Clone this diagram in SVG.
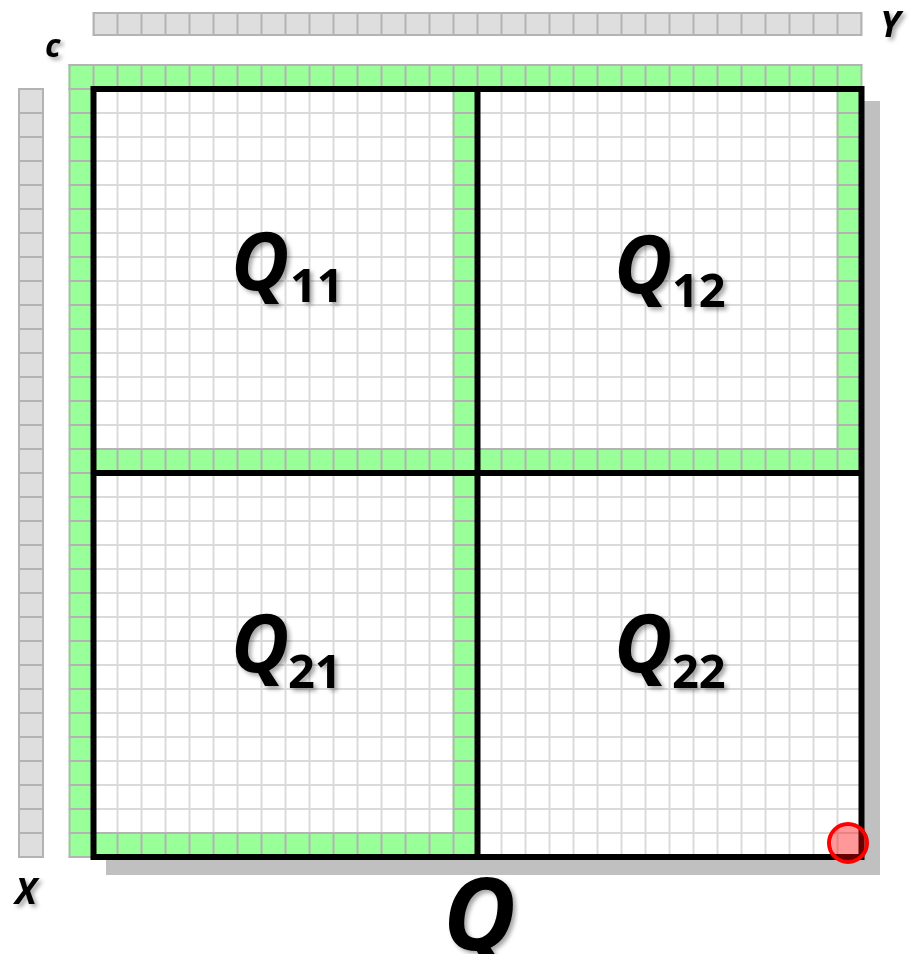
<svg xmlns="http://www.w3.org/2000/svg" width="915" height="954" viewBox="0 0 915 954">
  <defs>
    <style>
      .lbl { font-family: "Open Sans", "Noto Sans", "DejaVu Sans", sans-serif; font-weight: bold; fill: #000; filter: url(#sh); }
      .it { font-style: italic; }
      .bar { fill: #dedede; }
      .barline { fill: none; stroke: #b3b3b3; stroke-width: 2; }
      .black { fill: none; stroke: #000; stroke-width: 6; }
    </style>
    <filter id="sh" x="-20%" y="-20%" width="150%" height="150%">
      <feDropShadow dx="3" dy="3" stdDeviation="2" flood-color="#000" flood-opacity="0.35"/>
    </filter>
    <pattern id="grid" patternUnits="userSpaceOnUse" x="68.5" y="64" width="24" height="24">
      <rect x="0" y="0" width="24" height="24" fill="#fff"/>
      <rect x="0" y="0" width="24" height="2" fill="#dadada"/>
      <rect x="0" y="0" width="2" height="24" fill="#dadada"/>
    </pattern>
    <pattern id="green" patternUnits="userSpaceOnUse" x="68.5" y="64" width="24" height="24">
      <rect x="0" y="0" width="24" height="24" fill="#99ff99"/>
      <rect x="0" y="0" width="24" height="2" fill="#b3b3b3"/>
      <rect x="0" y="0" width="2" height="24" fill="#b3b3b3"/>
    </pattern>
    <pattern id="vbars" patternUnits="userSpaceOnUse" x="92.5" y="0" width="24" height="24">
      <rect x="0" y="0" width="2" height="24" fill="#b3b3b3"/>
    </pattern>
    <pattern id="hbars" patternUnits="userSpaceOnUse" x="0" y="88" width="24" height="24">
      <rect x="0" y="0" width="24" height="2" fill="#b3b3b3"/>
    </pattern>
  </defs>

  <rect width="915" height="954" fill="#fff"/>

  <!-- Y vector bar -->
  <g id="Ybar">
    <rect class="bar" x="93.5" y="13" width="768" height="22"/>
    <rect x="93.5" y="13" width="768" height="22" fill="url(#vbars)"/>
    <rect class="barline" x="93.5" y="13" width="768" height="22"/>
  </g>

  <!-- X vector bar -->
  <g id="Xbar">
    <rect class="bar" x="19" y="89" width="24" height="768"/>
    <rect x="19" y="89" width="24" height="768" fill="url(#hbars)"/>
    <rect class="barline" x="19" y="89" width="24" height="768"/>
  </g>

  <!-- Q matrix -->
  <g id="Q">
    <rect x="106" y="101" width="774" height="774" fill="#c0c0c0"/>
    <rect x="68.5" y="64" width="794" height="794" fill="url(#grid)"/>
    <g id="green-cells" fill="url(#green)">
      <rect x="68.5" y="64" width="794" height="26"/>
      <rect x="68.5" y="64" width="26" height="794"/>
      <rect x="452.5" y="88" width="26" height="770"/>
      <rect x="92.5" y="448" width="770" height="26"/>
      <rect x="836.5" y="88" width="26" height="386"/>
      <rect x="92.5" y="832" width="386" height="26"/>
    </g>
    <g id="quadrant-lines">
      <rect class="black" x="93.5" y="89" width="768" height="768"/>
      <line class="black" x1="477.5" y1="89" x2="477.5" y2="857"/>
      <line class="black" x1="93.5" y1="473" x2="861.5" y2="473"/>
    </g>
    <circle id="marker" cx="848" cy="843" r="19" fill="#ff0000" fill-opacity="0.4" stroke="#ff0000" stroke-width="4"/>
  </g>

  <!-- labels -->
  <g id="Q11"><text class="lbl it" x="231" y="290" font-size="80">Q</text><text class="lbl" x="290" y="302" font-size="47">11</text></g>
  <g id="Q12"><text class="lbl it" x="614" y="293" font-size="80">Q</text><text class="lbl" x="672" y="307" font-size="47">12</text></g>
  <g id="Q21"><text class="lbl it" x="231" y="672" font-size="80">Q</text><text class="lbl" x="288" y="688" font-size="47">21</text></g>
  <g id="Q22"><text class="lbl it" x="614" y="672" font-size="80">Q</text><text class="lbl" x="672" y="688" font-size="47">22</text></g>
  <text id="Qlabel" class="lbl it" x="443" y="950" font-size="100">Q</text>
  <text id="clabel" class="lbl it" x="45" y="57" font-size="32">c</text>
  <text id="Ylabel" class="lbl it" x="880" y="37" font-size="36">Y</text>
  <text id="Xlabel" class="lbl it" x="15" y="904" font-size="36">X</text>
</svg>
